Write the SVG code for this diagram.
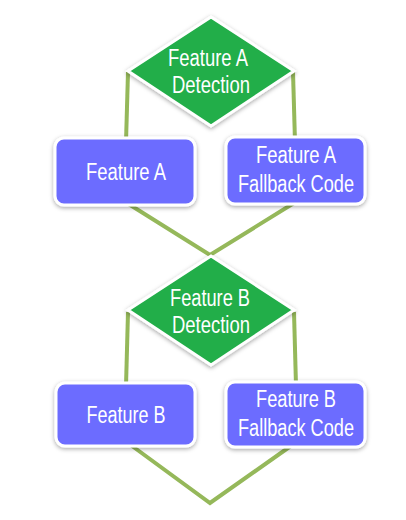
<svg xmlns="http://www.w3.org/2000/svg" width="406" height="520" viewBox="0 0 406 520">
<defs>
<filter id="sh" x="-20%" y="-20%" width="140%" height="150%">
<feDropShadow dx="0" dy="1.5" stdDeviation="2" flood-color="#000" flood-opacity="0.35"/>
</filter>
</defs>
<style>
.bg{fill:#ffffff}
.ln{stroke:#95b85a;stroke-width:4;fill:none;stroke-linejoin:miter}
.dia{fill:#23ae4a;stroke:#ffffff;stroke-width:3;filter:url(#sh)}
.box{fill:#6c6cff;stroke:#ffffff;stroke-width:3;filter:url(#sh)}
.t{font-family:"Liberation Sans",Arial,sans-serif;font-size:23px;fill:#ffffff;text-anchor:middle}
</style>
<rect class="bg" x="0" y="0" width="406" height="520"/>
<g id="connectors">
<path class="ln" d="M128,72 L126,142"/>
<path class="ln" d="M293,72 L295,142"/>
<path class="ln" d="M127,203 L210,255 L294,203"/>
<path class="ln" d="M128,312 L126,386"/>
<path class="ln" d="M294,312 L296,386"/>
<path class="ln" d="M128,443 L210,503 L295,443"/>
</g>
<g id="detectA">
<polygon class="dia" points="211,17 294,71 211,126 128,71"/>
<text class="t" x="208" y="66" textLength="80" lengthAdjust="spacingAndGlyphs">Feature A</text>
<text class="t" x="211" y="93" textLength="78" lengthAdjust="spacingAndGlyphs">Detection</text>
</g>
<g id="featureA">
<rect class="box" x="55" y="138" width="140" height="67" rx="9"/>
<text class="t" x="126" y="180" textLength="80" lengthAdjust="spacingAndGlyphs">Feature A</text>
</g>
<g id="fallbackA">
<rect class="box" x="226" y="137" width="139" height="67" rx="9"/>
<text class="t" x="296" y="163" textLength="80" lengthAdjust="spacingAndGlyphs">Feature A</text>
<text class="t" x="296" y="192" textLength="116" lengthAdjust="spacingAndGlyphs">Fallback Code</text>
</g>
<g id="detectB">
<polygon class="dia" points="211,256 294,310 211,365 128,310"/>
<text class="t" x="210" y="306" textLength="80" lengthAdjust="spacingAndGlyphs">Feature B</text>
<text class="t" x="211" y="333" textLength="78" lengthAdjust="spacingAndGlyphs">Detection</text>
</g>
<g id="featureB">
<rect class="box" x="56" y="383" width="139" height="63" rx="9"/>
<text class="t" x="126" y="423" textLength="79" lengthAdjust="spacingAndGlyphs">Feature B</text>
</g>
<g id="fallbackB">
<rect class="box" x="226" y="382" width="139" height="65" rx="9"/>
<text class="t" x="296" y="407" textLength="80" lengthAdjust="spacingAndGlyphs">Feature B</text>
<text class="t" x="296" y="436" textLength="116" lengthAdjust="spacingAndGlyphs">Fallback Code</text>
</g>
</svg>
